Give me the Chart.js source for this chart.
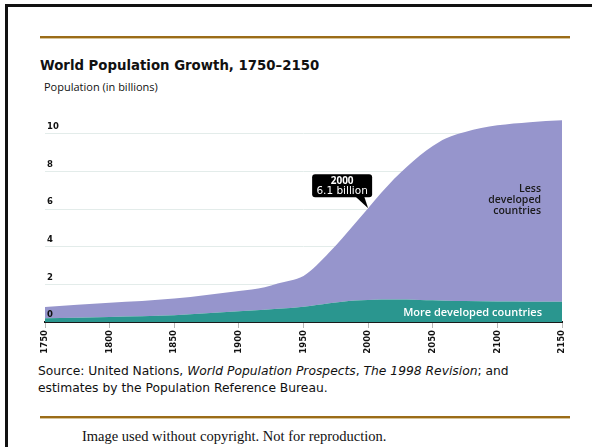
<!DOCTYPE html>
<html>
<head>
<meta charset="utf-8">
<script src="https://cdn.jsdelivr.net/npm/chart.js@4"></script>
<style>
  html, body { margin: 0; padding: 0; background: #fff; }
  body { width: 592px; height: 447px; position: relative; overflow: hidden; }
  #frame { position: absolute; left: 5px; top: 4px; width: 620px; height: 440px;
    border-left: 3px solid #111; border-top: 3px solid #111; border-bottom: 2px solid #555; }
  .rule { position: absolute; left: 40px; width: 530px; height: 2px; background: #9b6c18;
    box-shadow: 0 1px 0 #d8c49a; }
  .txt { position: absolute; white-space: nowrap; }
  #title { left: 40px; top: 58px; font: bold 13.3px "DejaVu Sans", Verdana, sans-serif; color: #111; }
  #sub { left: 44px; top: 79px; font: 11px "Open Sans", sans-serif; color: #111; }
  #src { left: 38px; top: 363px; font: 12.3px/17px "DejaVu Sans", Verdana, sans-serif; color: #111; }
  #foot { left: 82px; top: 428px; font: 14.5px "Liberation Serif", "Times New Roman", serif; color: #111; }
  #less { right: 51px; top: 183px; text-align: right; font: 600 10.5px/10.8px "Open Sans", sans-serif; color: #1a1a1a; }
  #more { right: 50px; top: 304px; font: 600 11px "Open Sans", sans-serif; color: #fff; }
  canvas { position: absolute; left: 0; top: 0; }
</style>
</head>
<body>
<div id="frame"></div>
<div class="rule" style="top:36px"></div>
<div class="rule" style="top:416px"></div>
<div class="txt" id="title">World Population Growth, 1750&#8211;2150</div>
<div class="txt" id="sub">Population (in billions)</div>
<div class="txt" id="src">Source: United Nations, <i>World Population Prospects</i>, <i>The 1998 Revision</i>; and<br>estimates by the Population Reference Bureau.</div>
<div class="txt" id="foot">Image used without copyright. Not for reproduction.</div>
<canvas id="chart" width="592" height="447"></canvas>
<div class="txt" id="less">Less<br>developed<br>countries</div>
<div class="txt" id="more">More developed countries</div>
<script>
const years = [1750, 1800, 1850, 1900, 1920, 1930, 1950, 1960, 1970, 1980, 1990, 2000,
  2010, 2020, 2030, 2040, 2050, 2060, 2075, 2100, 2125, 2150];
// population of the more developed countries, billions
const moreDeveloped = [0.2, 0.27, 0.36, 0.57, 0.65, 0.7, 0.81, 0.9, 1.0, 1.08, 1.14, 1.17,
  1.19, 1.2, 1.19, 1.17, 1.15, 1.13, 1.11, 1.09, 1.08, 1.07];
// world total (more + less developed), billions
const worldTotal = [0.8, 1.02, 1.25, 1.65, 1.85, 2.05, 2.45, 3.0, 3.7, 4.45, 5.25, 6.05,
  6.85, 7.6, 8.25, 8.85, 9.35, 9.75, 10.1, 10.45, 10.62, 10.72];
const xTicks = [1750, 1800, 1850, 1900, 1950, 2000, 2050, 2100, 2150];
const yTicks = [0, 2, 4, 6, 8, 10];
const callout = { year: 2000, value: 6.05, line1: "2000", line2: "6.1 billion" };

const toPoints = (arr) => years.map((y, i) => ({ x: y, y: arr[i] }));

// y labels sit just above their gridline and on top of the areas
const yLabelPlugin = {
  id: "yLabels",
  afterDatasetsDraw(chart) {
    const ctx = chart.ctx;
    const ys = chart.scales.y;
    ctx.save();
    ctx.fillStyle = "#111";
    ctx.font = "bold 8.5px 'DejaVu Sans', sans-serif";
    ctx.textAlign = "left";
    ctx.textBaseline = "middle";
    ys.ticks.forEach((t) => {
      ctx.fillText(String(t.value), chart.chartArea.left + 2, ys.getPixelForValue(t.value) - 7);
    });
    ctx.restore();
  }
};

// black speech box pointing at the year 2000 value
const calloutPlugin = {
  id: "callout",
  afterDatasetsDraw(chart) {
    const ctx = chart.ctx;
    const px = chart.scales.x.getPixelForValue(callout.year);
    const py = chart.scales.y.getPixelForValue(callout.value);
    const w = 60, h = 23, r = 3;
    const right = px + 4, bottom = py - 11;
    const left = right - w, top = bottom - h;
    ctx.save();
    ctx.fillStyle = "#000";
    ctx.beginPath();
    ctx.moveTo(left + r, top);
    ctx.arcTo(right, top, right, bottom, r);
    ctx.arcTo(right, bottom, left, bottom, r);
    ctx.arcTo(left, bottom, left, top, r);
    ctx.arcTo(left, top, right, top, r);
    ctx.closePath();
    ctx.fill();
    ctx.beginPath();
    ctx.moveTo(px - 13, bottom - 1);
    ctx.lineTo(px - 4, bottom - 1);
    ctx.lineTo(px, py);
    ctx.closePath();
    ctx.fill();
    ctx.fillStyle = "#fff";
    ctx.textAlign = "center";
    ctx.textBaseline = "middle";
    ctx.font = "bold 10px 'Open Sans', sans-serif";
    ctx.fillText(callout.line1, left + w / 2, top + 7);
    ctx.font = "10.5px 'DejaVu Sans', sans-serif";
    ctx.fillText(callout.line2, left + w / 2, top + 17);
    ctx.restore();
  }
};

new Chart(document.getElementById("chart"), {
  type: "line",
  plugins: [yLabelPlugin, calloutPlugin],
  data: {
    datasets: [
      {
        label: "More developed countries",
        data: toPoints(moreDeveloped),
        backgroundColor: "#2a968f",
        borderWidth: 0,
        fill: "origin",
      },
      {
        label: "Less developed countries",
        data: toPoints(worldTotal),
        backgroundColor: "#9695cc",
        borderWidth: 0,
        fill: "-1",
      },
    ],
  },
  options: {
    responsive: false,
    animation: false,
    layout: { padding: { left: 45, right: 30, top: 115, bottom: 85 } },
    elements: {
      point: { radius: 0 },
      line: { cubicInterpolationMode: "monotone" },
    },
    plugins: { legend: { display: false }, tooltip: { enabled: false } },
    scales: {
      x: {
        type: "linear",
        min: 1750,
        max: 2150,
        afterBuildTicks: (s) => { s.ticks = xTicks.map((v) => ({ value: v })); },
        afterFit: (s) => { s.height = 40; },
        grid: { drawOnChartArea: false, drawTicks: true, tickLength: 6, color: "#b8b8b8" },
        border: { display: true, color: "#1a1a1a", width: 2 },
        ticks: {
          autoSkip: false,
          minRotation: 90,
          maxRotation: 90,
          padding: 2,
          color: "#111",
          font: { family: "DejaVu Sans", size: 8.5, weight: "bold" },
          callback: (v) => String(v),
        },
      },
      y: {
        min: 0,
        max: 11,
        position: "left",
        afterBuildTicks: (s) => { s.ticks = yTicks.map((v) => ({ value: v })); },
        afterFit: (s) => { s.width = 0; },
        grid: { color: "#e3ecea", drawTicks: false },
        border: { display: false },
        ticks: { display: false },
      },
    },
  },
});
</script>
</body>
</html>
